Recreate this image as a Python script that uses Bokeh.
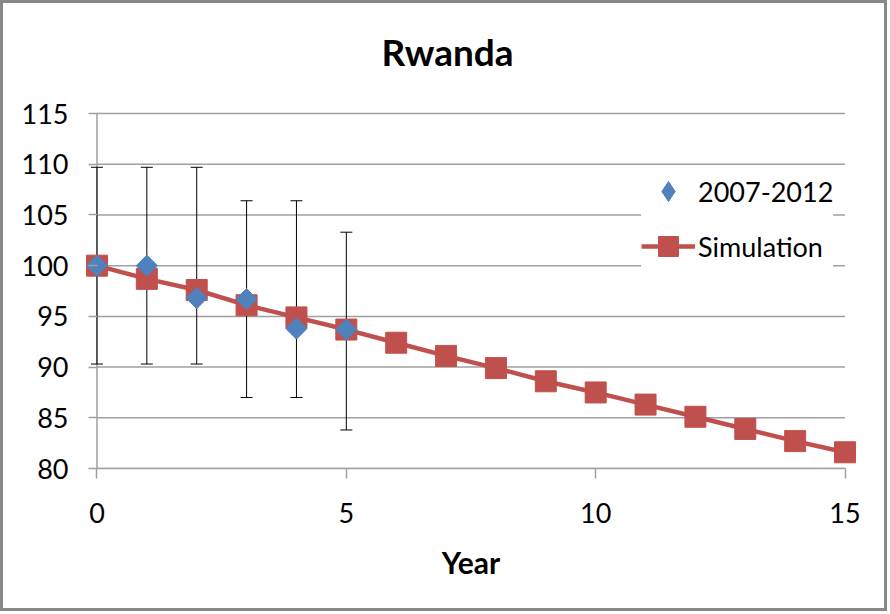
import math
from bokeh.plotting import figure
from bokeh.models import (ColumnDataSource, Range1d, FixedTicker, Whisker, TeeHead,
                          Legend, LegendItem, Title)
from bokeh.embed import file_html
from bokeh.resources import INLINE

# ---- data ----
title_text = "Rwanda"
x_label = "Year"
x_ticks = [0, 5, 10, 15]
y_ticks = [80, 85, 90, 95, 100, 105, 110, 115]

sim_years = list(range(16))
sim_values = [100.0, 98.7, 97.6, 96.1, 94.9, 93.7, 92.4, 91.1, 89.9, 88.6,
              87.5, 86.3, 85.1, 83.9, 82.7, 81.6]

obs_years = [0, 1, 2, 3, 4, 5]
obs_values = [100.0, 100.0, 96.8, 96.7, 93.8, 93.7]
obs_upper = [109.7, 109.7, 109.7, 106.4, 106.4, 103.3]
obs_lower = [90.3, 90.3, 90.3, 87.0, 87.0, 83.8]

series_names = ["2007-2012", "Simulation"]

FONT = "Lato"
GRID = "#a0a0a0"
RED = "#C0504D"
BLUE = "#4F81BD"

p = figure(width=887, height=611, output_backend="svg", toolbar_location=None,
           title=None,
           x_range=Range1d(-0.25, 15.25), y_range=Range1d(80, 115.3),
           min_border_left=81, min_border_right=33, min_border_top=107,
           min_border_bottom=146)
p.styles = {"border": "3px solid #888888"}
p.outline_line_color = None
p.background_fill_color = "white"
p.border_fill_color = "white"
p.xgrid.visible = False
p.ygrid.visible = False

# title (a thin spacer title sits between the frame and the main title)
spacer = Title(text=" ", text_font_size="1px", standoff=34)
p.add_layout(spacer, "above")
main_title = Title(text=title_text, text_font=FONT, text_font_size="37px",
                   text_font_style="bold", text_color="black",
                   align="left", offset=297, standoff=0)
p.add_layout(main_title, "above")

# horizontal grid lines from x_ticks[0] to x_ticks[-1], and y-axis line at x_ticks[0]
gsrc = ColumnDataSource(dict(x0=[x_ticks[0]] * len(y_ticks), x1=[x_ticks[-1]] * len(y_ticks),
                             y=y_ticks))
gr = p.segment(x0="x0", x1="x1", y0="y", y1="y", source=gsrc, line_color=GRID, line_width=1.5)
gr.level = "image"
ysrc = ColumnDataSource(dict(x=[x_ticks[0]], y0=[y_ticks[0]], y1=[y_ticks[-1]]))
yl = p.segment(x0="x", x1="x", y0="y0", y1="y1", source=ysrc, line_color=GRID, line_width=1.5)
yl.level = "image"

# axes
xa = p.xaxis[0]
xa.ticker = FixedTicker(ticks=x_ticks)
xa.bounds = (x_ticks[0], x_ticks[-1])
xa.axis_line_color = GRID
xa.axis_line_width = 1.5
xa.major_tick_line_color = GRID
xa.major_tick_line_width = 1.5
xa.major_tick_in = 0
xa.major_tick_out = 10
xa.minor_tick_line_color = None
xa.major_label_text_font = FONT
xa.major_label_text_font_size = "27px"
xa.major_label_text_color = "black"
xa.major_label_standoff = 24
xa.axis_label = x_label
xa.axis_label_text_font = FONT
xa.axis_label_text_font_size = "30px"
xa.axis_label_text_font_style = "bold"
xa.axis_label_text_color = "black"
xa.axis_label_standoff = 18

ya = p.yaxis[0]
ya.ticker = FixedTicker(ticks=y_ticks)
ya.axis_line_color = None
ya.major_tick_line_color = GRID
ya.major_tick_line_width = 1.5
ya.major_tick_in = 13
ya.major_tick_out = -4
ya.minor_tick_line_color = None
ya.major_label_text_font = FONT
ya.major_label_text_font_size = "27px"
ya.major_label_text_color = "black"
ya.major_label_standoff = 16

# error bars
esrc = ColumnDataSource(dict(x=obs_years, y=obs_values, upper=obs_upper, lower=obs_lower))
wh = Whisker(source=esrc, base="x", upper="upper", lower="lower",
             line_color="black", line_width=1,
             upper_head=TeeHead(size=12, line_color="black", line_width=1),
             lower_head=TeeHead(size=12, line_color="black", line_width=1),
             level="underlay")
p.add_layout(wh)

# simulation
ssrc = ColumnDataSource(dict(x=sim_years, y=sim_values))
sim_line = p.line("x", "y", source=ssrc, line_color=RED, line_width=4.5)
sim_sq = p.scatter("x", "y", source=ssrc, marker="square", size=21,
                   fill_color=RED, line_color=RED, line_width=1)

# observed (diamonds = squares turned 45 degrees)
obs_r = p.scatter("x", "y", source=esrc, marker="square", size=15, angle=math.pi / 4,
                  fill_color=BLUE, line_color=BLUE, line_width=1)
# legend-only proxy showing a diamond
proxy = p.scatter(x=[float("nan")], y=[float("nan")], marker="diamond", size=20,
                  fill_color=BLUE, line_color=BLUE)

legend = Legend(items=[LegendItem(label=series_names[0], renderers=[proxy]),
                       LegendItem(label=series_names[1], renderers=[sim_line, sim_sq])],
                location=(557, 197), orientation="vertical",
                background_fill_color="white", background_fill_alpha=1.0,
                border_line_color=None,
                label_text_font=FONT, label_text_font_size="27px", label_text_color="black",
                glyph_width=54, glyph_height=50, label_height=30, label_standoff=3,
                spacing=5, padding=3, margin=0)
p.add_layout(legend)

open("out.html", "w").write(file_html(p, INLINE))
